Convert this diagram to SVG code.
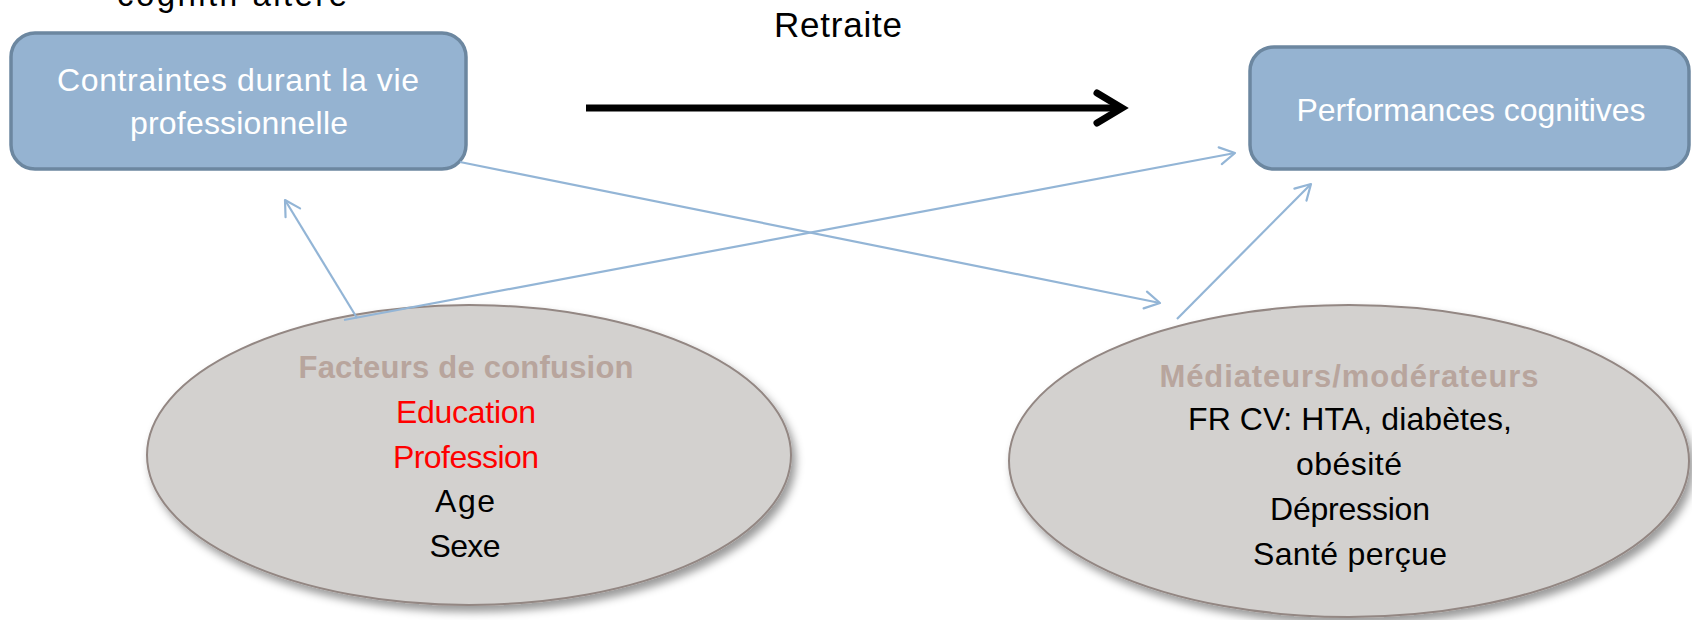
<svg xmlns="http://www.w3.org/2000/svg" width="1692" height="620" viewBox="0 0 1692 620">
<style>
text{font-family:"Liberation Sans",Arial,sans-serif;text-anchor:middle}
.box{fill:#95b3d1;stroke:#6c87a0;stroke-width:3.5}
.bt{fill:#ffffff;font-size:32px}
.ell{fill:#d3d1cf;stroke:#938783;stroke-width:2}
.hd{fill:#b8a59d;font-size:31px;font-weight:bold}
.red{fill:#ff0000;font-size:32px}
.blk{fill:#000000;font-size:32px}
.con{stroke:#93b5d6;stroke-width:2.2;fill:none;marker-end:url(#ah)}
</style>
<defs>
<marker id="ah" markerUnits="userSpaceOnUse" viewBox="0 0 20 20" markerWidth="20" markerHeight="20" refX="18" refY="10" orient="auto">
<path d="M3,1.5 L18,10 L3,18.5" fill="none" stroke="#93b5d6" stroke-width="2.2" stroke-linecap="round" stroke-linejoin="round"/>
</marker>
<filter id="sh" x="-10%" y="-10%" width="125%" height="130%">
<feDropShadow dx="4" dy="6" stdDeviation="4" flood-color="#000" flood-opacity="0.4"/>
</filter>
</defs>
<rect width="1692" height="620" fill="#ffffff"/>
<text x="232" y="6" class="blk" style="font-size:33px" textLength="230">cognitif altéré</text>
<g id="retraite">
<text x="838" y="37" class="blk" style="font-size:35px" textLength="128">Retraite</text>
<line x1="586" y1="108" x2="1118" y2="108" stroke="#000" stroke-width="7"/>
<polyline points="1097,93 1122,108 1097,123" fill="none" stroke="#000" stroke-width="7" stroke-linecap="round" stroke-linejoin="miter"/>
</g>
<g id="contraintes">
<rect x="11" y="33" width="455" height="136" rx="24" class="box"/>
<text x="238" y="91" class="bt" textLength="362">Contraintes durant la vie</text>
<text x="239" y="134" class="bt" textLength="218">professionnelle</text>
</g>
<g id="performances">
<rect x="1250" y="47" width="439" height="122" rx="24" class="box"/>
<text x="1471" y="121" class="bt" textLength="349">Performances cognitives</text>
</g>
<g id="confusion">
<ellipse cx="469" cy="455" rx="322" ry="150" class="ell" filter="url(#sh)"/>
<text x="466" y="378" class="hd" textLength="335">Facteurs de confusion</text>
<text x="466" y="423" class="red" textLength="140">Education</text>
<text x="466" y="468" class="red" textLength="146">Profession</text>
<text x="465" y="512" class="blk" textLength="60">Age</text>
<text x="465" y="557" class="blk" textLength="71">Sexe</text>
</g>
<g id="mediateurs">
<ellipse cx="1349" cy="461" rx="340" ry="156" class="ell" filter="url(#sh)"/>
<text x="1349" y="387" class="hd" textLength="379">Médiateurs/modérateurs</text>
<text x="1350" y="430" class="blk" textLength="324">FR CV: HTA, diabètes,</text>
<text x="1349" y="475" class="blk" textLength="106">obésité</text>
<text x="1350" y="520" class="blk" textLength="160">Dépression</text>
<text x="1350" y="565" class="blk" textLength="194">Santé perçue</text>
</g>
<g id="connectors">
<line x1="460" y1="162" x2="1160" y2="303" class="con"/>
<line x1="344" y1="320" x2="1235" y2="153" class="con"/>
<line x1="357" y1="318" x2="285" y2="200" class="con"/>
<line x1="1177" y1="319" x2="1311" y2="184" class="con"/>
</g>
</svg>
